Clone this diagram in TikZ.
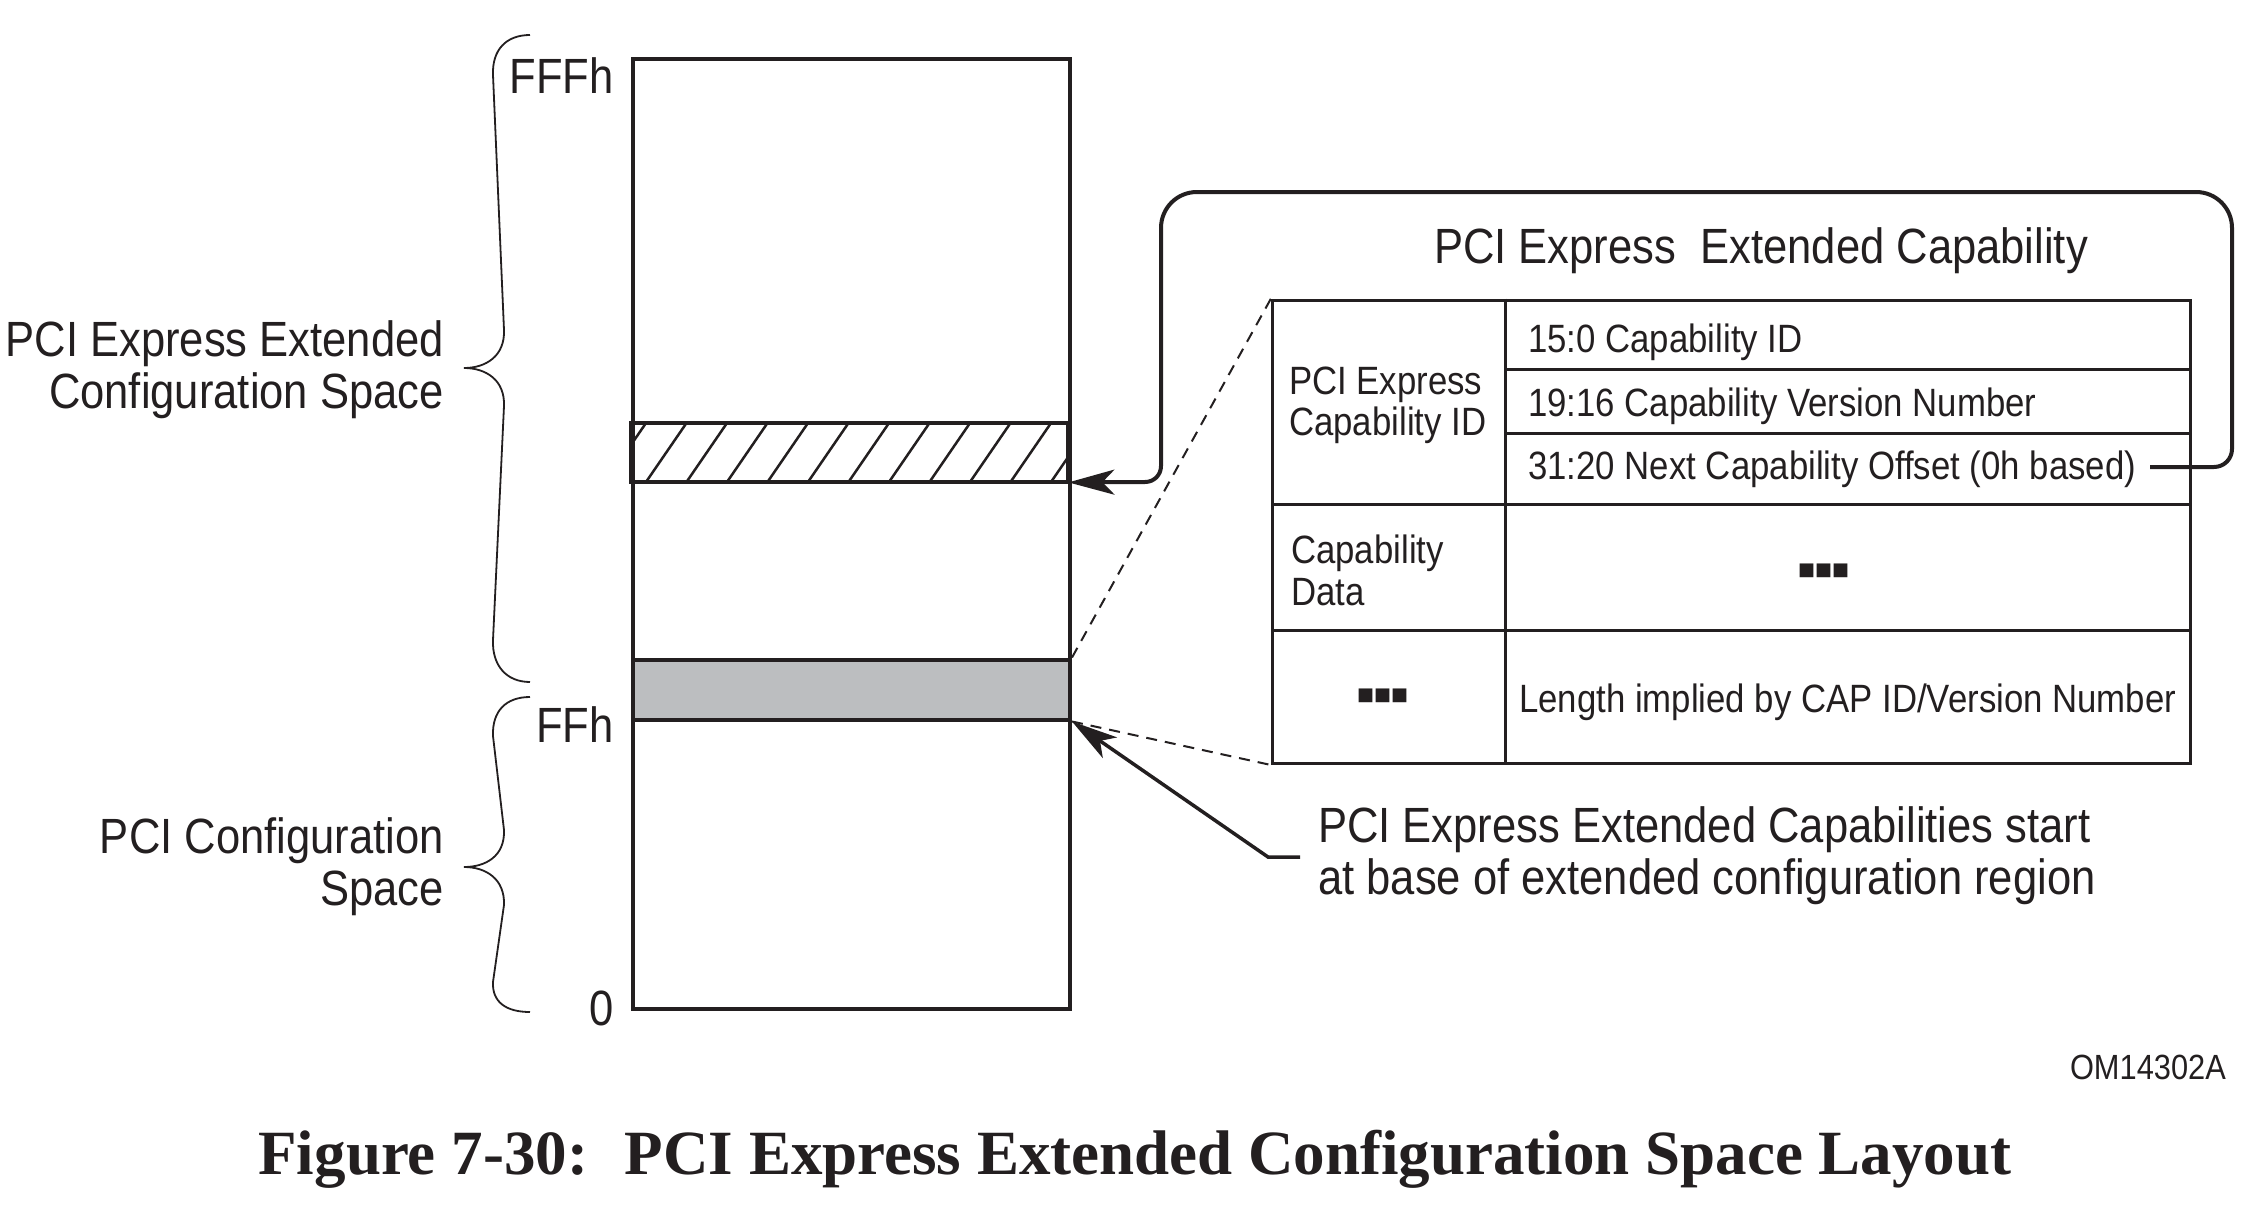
\documentclass[tikz,border=0pt]{standalone}
\usepackage{fontspec}
\setmainfont{Liberation Sans}[FakeStretch=0.88]
\newfontfamily\capfont{Liberation Serif}
\newfontfamily\symfont{DejaVu Sans}
\usetikzlibrary{arrows.meta}
\definecolor{ink}{RGB}{35,31,32}
\definecolor{bandgray}{RGB}{188,190,192}
\begin{document}
\begin{tikzpicture}[x=1pt,y=-1pt,
  big/.style={font=\fontsize{49.5}{52}\selectfont, inner sep=0pt, text=ink},
  small/.style={font=\fontsize{39.5}{41.5}\selectfont, inner sep=0pt, text=ink},
  frame/.style={draw=ink, line width=4pt},
  grid/.style={draw=ink, line width=3pt},
  hatchline/.style={draw=ink, line width=2.5pt},
  guide/.style={draw=ink, line width=2pt, dash pattern=on 11pt off 8pt},
  brace/.style={draw=ink, line width=1.8pt},
  conn/.style={draw=ink, line width=4pt, -{Stealth[length=46pt,width=25pt,inset=12pt]}},
  dots/.style={font=\symfont\fontsize{18}{18}\selectfont, inner sep=0pt, text=ink}
]
\useasboundingbox (0,0) rectangle (2255,1207);

% memory map
\node[frame, minimum width=437pt, minimum height=950pt, anchor=north west, inner sep=0pt] (mem) at (631,57) {};
\node[minimum width=437pt, minimum height=59pt, anchor=north west, inner sep=0pt] (hatch) at (631,423) {};
\begin{scope}
  \clip (631,423) rectangle (1068,482);
  \foreach \k in {-1,...,11}
    \draw[hatchline] ({646+40.5*\k},482) -- ({686.5+40.5*\k},423);
\end{scope}
\draw[frame] (hatch.north west) rectangle (hatch.south east);
\node[frame, fill=bandgray, minimum width=437pt, minimum height=60pt, anchor=north west, inner sep=0pt] (base) at (631,657.5) {};

% address labels
\node[big, anchor=base east] (fffh) at (614,94) {FFFh};
\node[big, anchor=base east] (ffh) at (614,742) {FFh};
\node[big, anchor=base east] (zero) at (614,1025) {0};

% region labels
\node[big, anchor=north east, align=right] (extlab) at (444,320.6) {PCI Express Extended\\Configuration Space};
\node[big, anchor=north east, align=right] (cfglab) at (444,817) {PCI Configuration\\Space};

% braces
\draw[brace] (530,35) .. controls (506,35) and (492,50) .. (493,75) -- (504,330) .. controls (505,356) and (486,368) .. (464,368) .. controls (486,368) and (505,380) .. (504,406) -- (493,640) .. controls (492,665) and (506,682) .. (530,682);
\draw[brace] (530,697) .. controls (506,697) and (492,711) .. (493,736) -- (504,830) .. controls (505,856) and (486,867) .. (464,867) .. controls (486,867) and (505,879) .. (504,905) -- (493,982) .. controls (492,1002) and (506,1012) .. (530,1012);

% capability structure
\node[big, anchor=base west] (captitle) at (1434,263) {PCI Express~ Extended Capability};
\node[grid, minimum width=918pt, minimum height=463.5pt, anchor=north west, inner sep=0pt] (tab) at (1271,298.5) {};
\draw[grid] (1505,298.5) -- (1505,762);
\draw[grid] (1505,369) -- (2189,369);
\draw[grid] (1505,433) -- (2189,433);
\draw[grid] (1271,504) -- (2189,504);
\draw[grid] (1271,630) -- (2189,630);

\node[small, anchor=north west, align=left] (capid) at (1289,366.7) {PCI Express\\Capability ID};
\node[small, anchor=base west] (f1) at (1528,352) {15:0 Capability ID};
\node[small, anchor=base west] (f2) at (1528,416) {19:16 Capability Version Number};
\node[small, anchor=base west] (f3) at (1528,479) {31:20 Next Capability Offset (0h based)};
\node[small, anchor=north west, align=left] (capdata) at (1291,534.7) {Capability\\Data};
\node[dots] (dots1) at (1823.5,571) {■■■};
\node[dots] (dots2) at (1382.5,696) {■■■};
\node[small, anchor=base west] (len) at (1519,712) {Length implied by CAP ID/Version Number};

% next-capability loop
\coordinate (loopstart) at (2150,467);
\draw[conn] (loopstart) -- (2214,467) .. controls (2224,467) and (2232,459) .. (2232,449) -- (2232,228) .. controls (2232,208) and (2216,192) .. (2196,192) -- (1197,192) .. controls (1177,192) and (1161,208) .. (1161,228) -- (1161,466) .. controls (1161,475) and (1154,482) .. (1145,482) -- (hatch.south east);

% zoom guides
\draw[guide] (base.north east) -- (tab.north west);
\draw[guide] (base.south east) -- (tab.south west);

% callout
\node[big, anchor=north west, align=left] (note) at (1318,806.5) {PCI Express Extended Capabilities start\\at base of extended configuration region};
\coordinate (notehook) at (1300,857);
\draw[conn, line width=3.5pt] (notehook) -- (1268,857) -- (base.south east);

% figure id and caption
\node[anchor=base east, inner sep=0pt, text=ink, font=\fontsize{35}{35}\selectfont] (omlabel) at (2226,1079) {OM14302A};
\node[anchor=base, inner sep=0pt, text=ink, font=\capfont\bfseries\fontsize{63}{63}\selectfont] (caption) at (1135,1174) {Figure 7-30:~ PCI Express Extended Configuration Space Layout};
\end{tikzpicture}
\end{document}
